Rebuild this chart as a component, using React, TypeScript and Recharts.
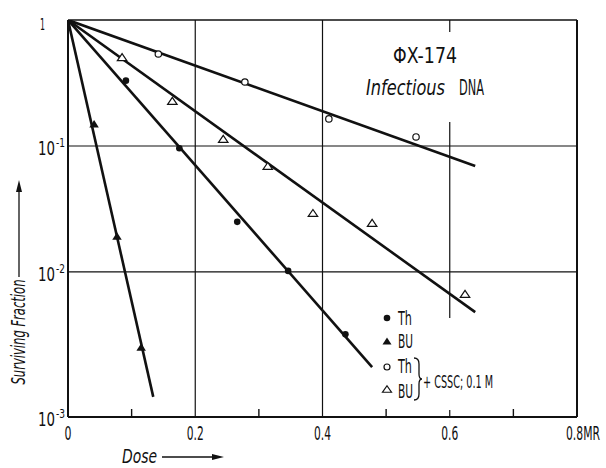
import React from 'react';
import { ComposedChart, Line, Scatter, XAxis, YAxis, ReferenceLine } from 'recharts';

// ---- axis ticks ----
const X_TICKS = [0, 0.1, 0.2, 0.3, 0.4, 0.5, 0.6, 0.7, 0.8];
const X_TICK_LABELS = ['0', '', '0.2', '', '0.4', '', '0.6', '', '0.8MR'];
const Y_BOTTOM = 0.000706;
const Y_TICKS = [1, 0.1, 0.01, Y_BOTTOM];
const Y_TICK_EXP = ['', '-1', '-2', '-3'];

// ---- measured points ----
const TH_DOSE = [0.091, 0.175, 0.266, 0.346, 0.436];
const TH_SURV = [0.33, 0.096, 0.025, 0.0102, 0.0032];
const BU_DOSE = [0.041, 0.077, 0.115];
const BU_SURV = [0.15, 0.0193, 0.00254];
const THC_DOSE = [0.142, 0.278, 0.41, 0.547];
const THC_SURV = [0.537, 0.322, 0.164, 0.118];
const BUC_DOSE = [0.085, 0.164, 0.244, 0.314, 0.385, 0.478, 0.624];
const BUC_SURV = [0.508, 0.228, 0.114, 0.0694, 0.0294, 0.0245, 0.0067];

// ---- fitted lines (start, end) ----
const FIT_TH_DOSE = [0, 0.478];
const FIT_TH_SURV = [1, 0.00176];
const FIT_BU_DOSE = [0, 0.134];
const FIT_BU_SURV = [1, 0.00102];
const FIT_THC_DOSE = [0, 0.64];
const FIT_THC_SURV = [1, 0.0694];
const FIT_BUC_DOSE = [0, 0.64];
const FIT_BUC_SURV = [1, 0.0048];

const zip = (xs: number[], ys: number[]) => xs.map((x, i) => ({ x, y: ys[i] }));

const FONT = '"Liberation Sans Narrow", "DejaVu Sans Condensed", "Liberation Sans", sans-serif';
const INK = '#111';

// tall, condensed text: small font stretched vertically, width fixed by textLength
const Tall = ({ x, y, size, sy, len, italic, children }: any) => (
  <text
    transform={`translate(${x},${y}) scale(1,${sy})`}
    fontFamily={FONT}
    fontStyle={italic ? 'italic' : 'normal'}
    fontSize={size}
    fill={INK}
    textLength={len}
    lengthAdjust="spacingAndGlyphs"
  >
    {children}
  </text>
);

const XTick = (props: any) => {
  const { x, y, index } = props;
  const label = X_TICK_LABELS[index];
  if (!label) {
    return <line x1={x} x2={x} y1={y} y2={y - 8} stroke={INK} strokeWidth={1.4} />;
  }
  if (index === X_TICKS.length - 1) {
    return (
      <Tall x={x - 11} y={y + 23} size={13.5} sy={1.5} len={34}>
        {label}
      </Tall>
    );
  }
  const w = label.length === 1 ? 7 : 17;
  return (
    <Tall x={x - w / 2} y={y + 23} size={14} sy={1.45} len={w}>
      {label}
    </Tall>
  );
};

const YTick = (props: any) => {
  const { x, y, index } = props;
  if (index === 0) {
    return (
      <Tall x={x - 28} y={y + 10} size={12} sy={1.25} len={5}>
        1
      </Tall>
    );
  }
  return (
    <g>
      <Tall x={x - 30} y={y + 9} size={14} sy={1.45} len={17}>
        10
      </Tall>
      <Tall x={x - 12} y={y + 1} size={10} sy={1.3} len={9}>
        {Y_TICK_EXP[index]}
      </Tall>
    </g>
  );
};

const FilledCircle = (p: any) => <circle cx={p.cx} cy={p.cy} r={3.3} fill={INK} />;
const OpenCircle = (p: any) => <circle cx={p.cx} cy={p.cy} r={3.2} fill="#fff" stroke={INK} strokeWidth={1.2} />;
const tri = (cx: number, cy: number, w: number, h: number) =>
  `M${cx},${cy - h / 2} L${cx + w / 2},${cy + h / 2} L${cx - w / 2},${cy + h / 2} Z`;
const FilledTri = (p: any) => <path d={tri(p.cx, p.cy, 9.5, 7.5)} fill={INK} />;
const OpenTri = (p: any) => <path d={tri(p.cx, p.cy, 9.5, 7)} fill="#fff" stroke={INK} strokeWidth={1.2} />;

export default function App() {
  return (
    <div style={{ position: 'absolute', left: 0, top: 0, width: 606, height: 468, background: '#fff' }}>
      <ComposedChart width={606} height={468} margin={{ top: 20, right: 29, left: 0, bottom: 0 }}>
        <XAxis
          type="number"
          dataKey="x"
          domain={[0, 0.8]}
          ticks={X_TICKS}
          interval={0}
          height={51}
          tickSize={0}
          tickMargin={0}
          tickLine={false}
          tick={<XTick />}
          axisLine={{ stroke: INK, strokeWidth: 2 }}
          allowDataOverflow
        />
        <YAxis
          type="number"
          dataKey="y"
          scale="log"
          domain={[Y_BOTTOM, 1]}
          ticks={Y_TICKS}
          interval={0}
          width={68}
          tickSize={0}
          tickMargin={0}
          tickLine={false}
          tick={<YTick />}
          axisLine={{ stroke: INK, strokeWidth: 2 }}
          allowDataOverflow
        />
        <ReferenceLine y={1} stroke={INK} strokeWidth={1.6} />
        <ReferenceLine x={0.8} stroke={INK} strokeWidth={2} />
        <ReferenceLine y={0.1} stroke={INK} strokeWidth={1.2} />
        <ReferenceLine y={0.01} stroke={INK} strokeWidth={1.2} />
        <ReferenceLine x={0.2} stroke={INK} strokeWidth={1.2} />
        <ReferenceLine x={0.4} stroke={INK} strokeWidth={1.2} />
        <ReferenceLine x={0.6} stroke={INK} strokeWidth={1.2} />

        <Line data={zip(FIT_BU_DOSE, FIT_BU_SURV)} dataKey="y" stroke={INK} strokeWidth={2.6} dot={false} isAnimationActive={false} />
        <Line data={zip(FIT_TH_DOSE, FIT_TH_SURV)} dataKey="y" stroke={INK} strokeWidth={2.6} dot={false} isAnimationActive={false} />
        <Line data={zip(FIT_THC_DOSE, FIT_THC_SURV)} dataKey="y" stroke={INK} strokeWidth={2.6} dot={false} isAnimationActive={false} />
        <Line data={zip(FIT_BUC_DOSE, FIT_BUC_SURV)} dataKey="y" stroke={INK} strokeWidth={2.6} dot={false} isAnimationActive={false} />

        <Scatter data={zip(TH_DOSE, TH_SURV)} dataKey="y" shape={FilledCircle} isAnimationActive={false} />
        <Scatter data={zip(BU_DOSE, BU_SURV)} dataKey="y" shape={FilledTri} isAnimationActive={false} />
        <Scatter data={zip(THC_DOSE, THC_SURV)} dataKey="y" shape={OpenCircle} isAnimationActive={false} />
        <Scatter data={zip(BUC_DOSE, BUC_SURV)} dataKey="y" shape={OpenTri} isAnimationActive={false} />
      </ComposedChart>

      <svg width={606} height={468} style={{ position: 'absolute', left: 0, top: 0, pointerEvents: 'none' }}>
        {/* title box */}
        <rect x={440} y={32} width={20} height={90} fill="#fff" />
        <Tall x={393} y={63} size={16} sy={1.35} len={64}>
          ΦX-174
        </Tall>
        <Tall x={366} y={95} size={16} sy={1.35} len={79} italic>
          Infectious
        </Tall>
        <Tall x={459} y={95} size={16} sy={1.35} len={25}>
          DNA
        </Tall>

        {/* legend box */}
        <rect x={440} y={318} width={20} height={92} fill="#fff" />
        <circle cx={387} cy={318} r={3.3} fill={INK} />
        <text x={398} y={325} fontFamily={FONT} fontSize={19} fill={INK} textLength={14} lengthAdjust="spacingAndGlyphs">Th</text>
        <path d={tri(387, 341, 9, 7)} fill={INK} />
        <text x={398} y={348} fontFamily={FONT} fontSize={19} fill={INK} textLength={15} lengthAdjust="spacingAndGlyphs">BU</text>
        <circle cx={387} cy={367} r={3} fill="#fff" stroke={INK} strokeWidth={1.2} />
        <text x={398} y={373} fontFamily={FONT} fontSize={19} fill={INK} textLength={14} lengthAdjust="spacingAndGlyphs">Th</text>
        <path d={tri(387, 389, 9, 6.5)} fill="#fff" stroke={INK} strokeWidth={1.2} />
        <text x={398} y={398} fontFamily={FONT} fontSize={19} fill={INK} textLength={15} lengthAdjust="spacingAndGlyphs">BU</text>
        <path d="M414,358 Q419,358 419,364 L419,374 Q419,379 422,379 Q419,379 419,384 L419,394 Q419,400 414,400" fill="none" stroke={INK} strokeWidth={1.3} />
        <text x={423} y={388} fontFamily={FONT} fontSize={17} fill={INK} textLength={70} lengthAdjust="spacingAndGlyphs">+ CSSC; 0.1 M</text>

        {/* y-axis title */}
        <text transform="translate(25,332) rotate(-90)" textAnchor="middle" fontFamily={FONT} fontStyle="italic" fontSize={19} fill={INK} textLength={105} lengthAdjust="spacingAndGlyphs">
          Surviving Fraction
        </text>
        <line x1={19} y1={277} x2={19} y2={190} stroke={INK} strokeWidth={1.3} />
        <path d="M19,180 L22,192 L16,192 Z" fill={INK} />

        {/* x-axis title */}
        <text x={122} y={463} fontFamily={FONT} fontStyle="italic" fontSize={19} fill={INK} textLength={35} lengthAdjust="spacingAndGlyphs">
          Dose
        </text>
        <line x1={162} y1={457} x2={214} y2={457} stroke={INK} strokeWidth={1.3} />
        <path d="M224,457 L212,454 L212,460 Z" fill={INK} />
      </svg>
    </div>
  );
}
